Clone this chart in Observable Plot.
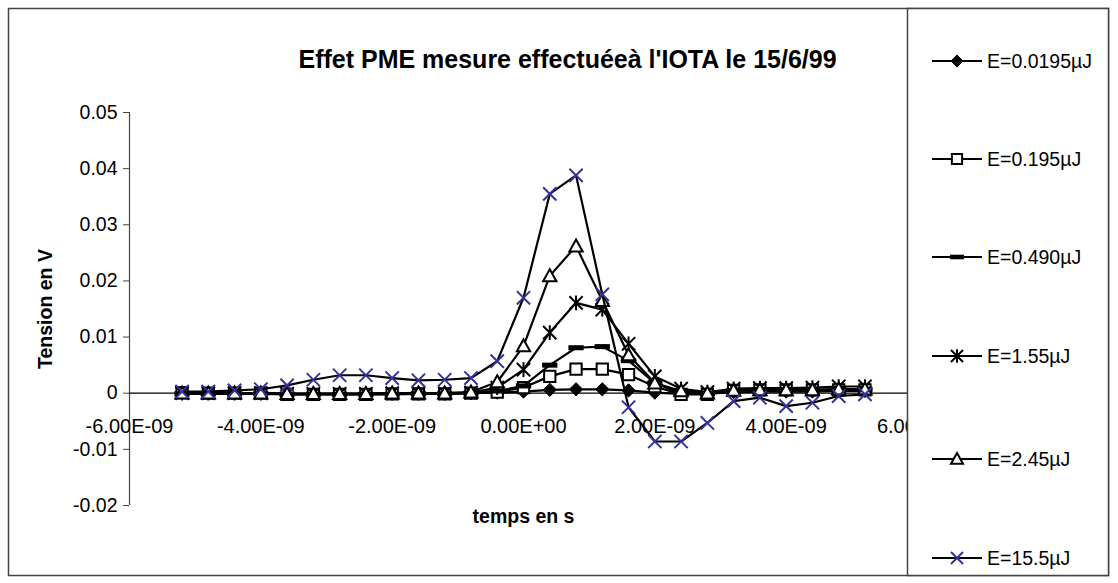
<!DOCTYPE html>
<html><head><meta charset="utf-8">
<script src="https://cdn.jsdelivr.net/npm/d3@7"></script>
<script src="https://cdn.jsdelivr.net/npm/@observablehq/plot@0.6"></script>
<style>
body{margin:0;background:#fff}
#chart{position:relative;width:1118px;height:583px}
</style>
</head><body><div id="chart"></div>
<script>
const times = [-5.2e-9, -4.8e-9, -4.4e-9, -4.0e-9, -3.6e-9, -3.2e-9, -2.8e-9, -2.4e-9, -2.0e-9, -1.6e-9, -1.2e-9, -0.8e-9, -0.4e-9, 0, 0.4e-9, 0.8e-9, 1.2e-9, 1.6e-9, 2.0e-9, 2.4e-9, 2.8e-9, 3.2e-9, 3.6e-9, 4.0e-9, 4.4e-9, 4.8e-9, 5.2e-9];
const seriesNames = ["E=0.0195µJ", "E=0.195µJ", "E=0.490µJ", "E=1.55µJ", "E=2.45µJ", "E=15.5µJ"];
const vE00195 = [0, 0, 0, 0, -0.0001, -0.0001, -0.0001, -0.0001, 0, 0, 0, 0, 0.0001, 0.0003, 0.0006, 0.0007, 0.0007, 0.0005, 0.0001, -0.0001, -0.0001, 0.0002, 0.0003, 0.0003, 0.0003, 0.0004, 0.0004];
const vE0195 = [0.0001, 0, 0, 0, -0.0002, -0.0002, -0.0002, -0.0002, -0.0001, -0.0001, -0.0001, 0, 0.0002, 0.001, 0.003, 0.0043, 0.0043, 0.0033, 0.0012, -0.0002, -0.0002, 0.0005, 0.0006, 0.0006, 0.0006, 0.0006, 0.0006];
const vE0490 = [-0.0001, -0.0001, -0.0001, -0.0001, -0.0002, -0.0002, -0.0002, -0.0002, -0.0002, -0.0001, -0.0001, 0, 0.0004, 0.0013, 0.005, 0.0081, 0.0083, 0.0058, 0.0018, 0, -0.0001, 0.0005, 0.0006, 0.0006, 0.0006, 0.0007, 0.0007];
const vE155 = [0, 0, 0, 0, -0.0001, -0.0001, -0.0001, -0.0001, 0, 0, 0, 0.0001, 0.001, 0.0042, 0.0108, 0.0161, 0.0149, 0.0088, 0.003, 0.0008, 0.0002, 0.0008, 0.0009, 0.0009, 0.001, 0.0012, 0.0012];
const vE245 = [0, 0, 0, 0, -0.0001, -0.0001, -0.0001, -0.0001, 0, 0, 0, 0.0002, 0.002, 0.0084, 0.0209, 0.0262, 0.0165, 0.0068, 0.0018, 0.0004, 0, 0.0005, 0.0006, 0.0006, 0.0006, 0.0007, 0.0007];
const vE155b = [0.0003, 0.0003, 0.0005, 0.0007, 0.0014, 0.0024, 0.0032, 0.0032, 0.0027, 0.0023, 0.0024, 0.0027, 0.0057, 0.017, 0.0355, 0.0388, 0.0176, -0.0025, -0.0086, -0.0086, -0.0053, -0.0014, -0.0008, -0.0023, -0.0017, -0.0005, -0.0002];

const yTicks = [-0.02, -0.01, 0, 0.01, 0.02, 0.03, 0.04, 0.05];
const yTickLabels = ["-0.02", "-0.01", "0", "0.01", "0.02", "0.03", "0.04", "0.05"];
const xTicks = [-6e-9, -4e-9, -2e-9, 0, 2e-9, 4e-9, 6e-9];
const xTickLabels = ["-6.00E-09", "-4.00E-09", "-2.00E-09", "0.00E+00", "2.00E-09", "4.00E-09", "6.00E-09"];
const titleText = "Effet PME mesure effectuéeà l'IOTA le 15/6/99";
const yTitle = "Tension en V";
const xTitle = "temps en s";

function sym(fn){ return {draw(c, size){ const h = Math.sqrt(size) / 2; fn(c, h); }}; }
const symDiamond = sym((c,h)=>{c.moveTo(0,-h);c.lineTo(h,0);c.lineTo(0,h);c.lineTo(-h,0);c.closePath();});
const symSquare = sym((c,h)=>{const s=h*0.85;c.moveTo(-s,-s);c.lineTo(s,-s);c.lineTo(s,s);c.lineTo(-s,s);c.closePath();});
const symDash = sym((c,h)=>{const w=h*1.15,t=h*0.38;c.moveTo(-w,-t);c.lineTo(w,-t);c.lineTo(w,t);c.lineTo(-w,t);c.closePath();});
const symAst = sym((c,h)=>{c.moveTo(-h,-h);c.lineTo(h,h);c.moveTo(-h,h);c.lineTo(h,-h);c.moveTo(0,-h*1.1);c.lineTo(0,h*1.1);});
const symTri = sym((c,h)=>{c.moveTo(0,-h);c.lineTo(h,h*0.8);c.lineTo(-h,h*0.8);c.closePath();});
const symTimes = sym((c,h)=>{c.moveTo(-h,-h);c.lineTo(h,h);c.moveTo(-h,h);c.lineTo(h,-h);});

const seriesValues = [vE00195, vE0195, vE0490, vE155, vE245, vE155b];
const styles = [
  {symbol: symDiamond, fill: "#000", stroke: "#000", sw: 1},
  {symbol: symSquare, fill: "#fff", stroke: "#000", sw: 2},
  {symbol: symDash, fill: "#000", stroke: "none", sw: 0},
  {symbol: symAst, fill: "none", stroke: "#000", sw: 2},
  {symbol: symTri, fill: "#fff", stroke: "#000", sw: 2},
  {symbol: symTimes, fill: "none", stroke: "#333399", sw: 2}
];
const R = 7.5;
const FONT = "'Liberation Sans', Arial, sans-serif";

const marks = [
  Plot.ruleX([-6e-9], {y1: -0.02, y2: 0.05, stroke: "#444", strokeWidth: 1.2}),
  Plot.ruleY([0], {stroke: "#000", strokeWidth: 1.2}),
  Plot.axisY(yTicks, {label: null, tickSize: 6, tickPadding: 6, stroke: "#444", tickFormat: d => yTickLabels[yTicks.indexOf(d)], fontSize: 19.5, fill: "#000"}),
  Plot.text(xTicks.map((t, i) => ({t, v: 0, label: xTickLabels[i]})), {x: "t", y: "v", text: "label", dy: 33, fontSize: 20, fill: "#000"})
];
seriesValues.forEach((vals, k) => {
  const data = times.map((t, i) => ({t, v: vals[i]}));
  const st = styles[k];
  marks.push(Plot.line(data, {x: "t", y: "v", stroke: "#000", strokeWidth: 2.2}));
  marks.push(Plot.dot(data, {x: "t", y: "v", symbol: st.symbol, r: R, fill: st.fill, stroke: st.stroke, strokeWidth: st.sw}));
});
marks.push(Plot.text([titleText], {frameAnchor: "top", dx: 44, dy: -62, fontSize: 25, fontWeight: "bold", fill: "#000"}));
marks.push(Plot.text([yTitle], {frameAnchor: "left", textAnchor: "middle", dx: -84, rotate: -90, fontSize: 19.5, fontWeight: "bold", fill: "#000"}));
marks.push(Plot.text([xTitle], {frameAnchor: "bottom", dy: 17, fontSize: 19.5, fontWeight: "bold", fill: "#000"}));

const svg = Plot.plot({
  width: 1118, height: 583,
  marginLeft: 129, marginRight: 201, marginTop: 112, marginBottom: 78,
  x: {domain: [-6e-9, 6e-9], axis: null},
  y: {domain: [-0.02, 0.05], axis: null},
  style: {fontFamily: FONT, fontSize: "19px", background: "#fff", color: "#000"},
  marks
});
document.getElementById("chart").appendChild(svg);

// chart frame and legend
const s = d3.select(svg);
s.append("rect").attr("x", 8.5).attr("y", 8.5).attr("width", 1100).attr("height", 567)
  .attr("fill", "none").attr("stroke", "#444").attr("stroke-width", 1.5);
const lg = s.append("g");
lg.append("rect").attr("x", 907.5).attr("y", 8.5).attr("width", 201).attr("height", 567)
  .attr("fill", "#fff").attr("stroke", "#444").attr("stroke-width", 1.5);
const legendY = [61, 159, 257, 356, 459, 558];
seriesNames.forEach((name, k) => {
  const y = legendY[k], st = styles[k];
  const g = lg.append("g");
  g.append("line").attr("x1", 932).attr("x2", 982).attr("y1", y).attr("y2", y).attr("stroke", "#000").attr("stroke-width", 2);
  g.append("path").attr("d", d3.symbol(st.symbol, Math.PI * 6.8 * 6.8)()).attr("transform", `translate(957,${y})`)
    .attr("fill", st.fill).attr("stroke", st.stroke).attr("stroke-width", st.sw);
  g.append("text").attr("x", 987).attr("y", y).attr("dy", "0.35em").attr("text-anchor", "start")
    .attr("font-size", 19.5).attr("font-family", FONT).attr("fill", "#000").text(name);
});
</script>
</body></html>
